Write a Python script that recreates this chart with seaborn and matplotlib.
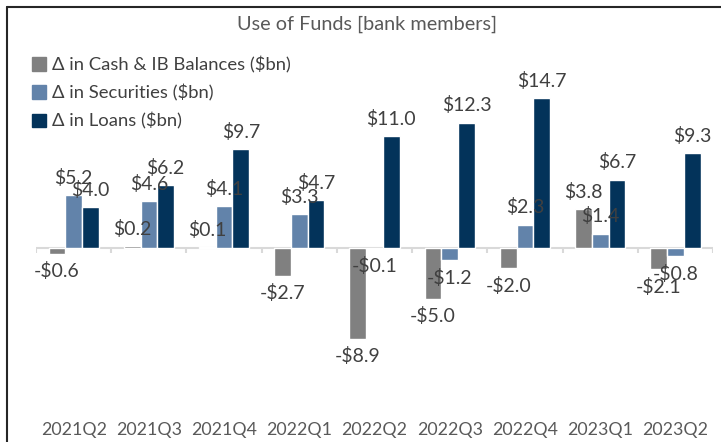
import pandas as pd
import numpy as np
import matplotlib.pyplot as plt
import seaborn as sns
from matplotlib.lines import Line2D

quarters = ['2021Q2', '2021Q3', '2021Q4', '2022Q1', '2022Q2', '2022Q3', '2022Q4', '2023Q1', '2023Q2']
cash = [-0.6, 0.2, 0.1, -2.7, -8.9, -5.0, -2.0, 3.8, -2.1]
securities = [5.2, 4.6, 4.1, 3.3, -0.1, -1.2, 2.3, 1.4, -0.8]
loans = [4.0, 6.2, 9.7, 4.7, 11.0, 12.3, 14.7, 6.7, 9.3]
series_names = ['Δ in Cash & IB Balances ($bn)', 'Δ in Securities ($bn)', 'Δ in Loans ($bn)']
colors = ['#808080', '#6283AA', '#03335A']

df = pd.DataFrame({'quarter': quarters * 3,
                   'value': cash + securities + loans,
                   'series': [s for s in series_names for _ in quarters]})

sns.set_style('white')
plt.rcParams['font.family'] = ['Lato', 'DejaVu Sans']
text_col = '#404040'

fig = plt.figure(figsize=(7.21, 4.42), dpi=100)
ax = fig.add_axes([0.05, 0.093, 0.939, 0.807])
sns.barplot(data=df, x='quarter', y='value', hue='series', palette=colors,
            width=0.667, ax=ax, legend=False, saturation=1)

def money(v):
    return f'-${abs(v):.1f}' if v < 0 else f'${v:.1f}'

# data labels above/below each bar
for cont in ax.containers:
    ax.bar_label(cont, labels=[money(b.get_height()) for b in cont], padding=6,
                 fontsize=14, color=text_col)

ax.set_ylim(-15, 20)
ax.set_xlim(-0.5, 8.5)
ax.axhline(0, color='#d9d9d9', lw=1.5, zorder=0.5)
ax.vlines(np.arange(-0.5, 9), -0.5, 0, color='#d9d9d9', lw=1.5, zorder=0.5)
for s in ax.spines.values():
    s.set_visible(False)
ax.set_yticks([])
ax.tick_params(axis='x', length=0, pad=15, labelsize=12.8, labelcolor='#595959')
ax.set_xlabel('')
ax.set_ylabel('')

handles = [plt.Rectangle((0, 0), 1, 1, color=c) for c in colors]
fig.legend(handles, series_names, loc='upper left', bbox_to_anchor=(0.022, 0.91),
           frameon=False, fontsize=13.3, handlelength=0.75, handleheight=0.75,
           handletextpad=0.3, labelspacing=0.6, labelcolor=text_col)

fig.text(0.509, 0.945, 'Use of Funds [bank members]', ha='center', va='center',
         fontsize=14.3, color='#595959')

# frame lines (top and left) as in the screenshot
fig.add_artist(Line2D([0.01, 1], [0.984, 0.984], color='#262626', lw=1.5))
fig.add_artist(Line2D([0.01, 0.01], [0, 0.984], color='#262626', lw=1.5))

fig.savefig('out.png', dpi=100)
